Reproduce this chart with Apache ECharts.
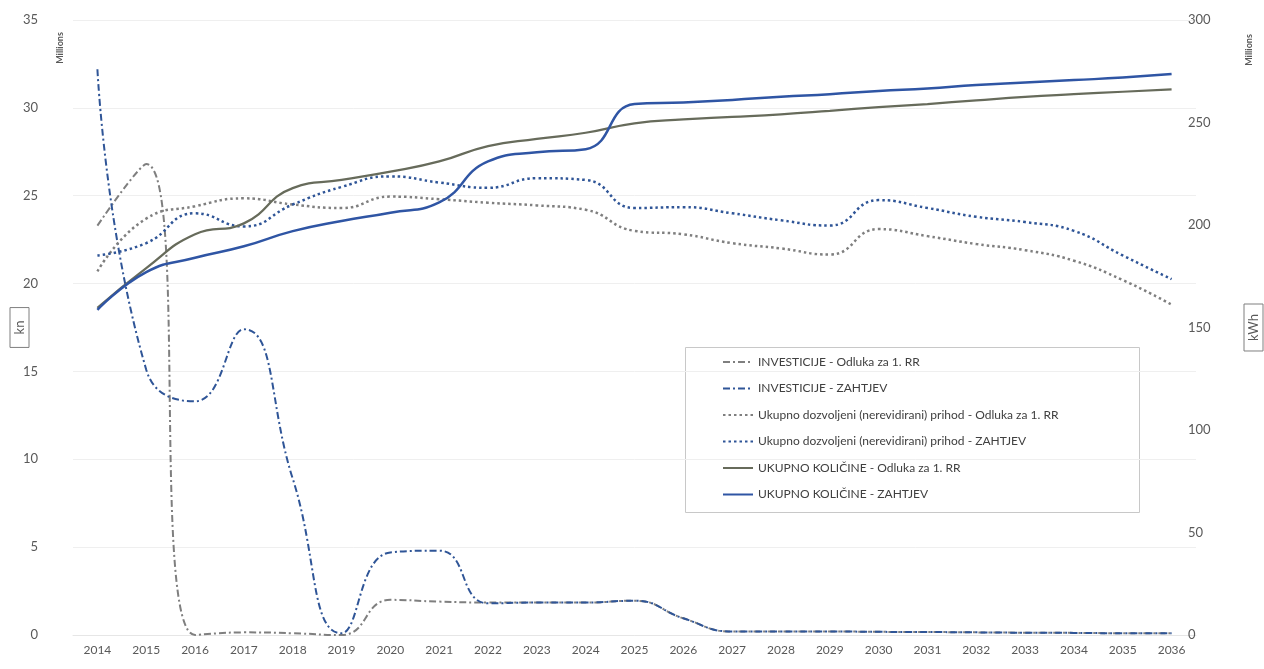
<!DOCTYPE html>
<html>
<head>
<meta charset="utf-8">
<script src="https://cdn.jsdelivr.net/npm/echarts@6/dist/echarts.min.js"></script>
<style>
html,body{margin:0;padding:0;background:#fff;}
#c{width:1264px;height:669px;}
</style>
</head>
<body>
<div id="c"></div>
<script>
const years = ['2014','2015','2016','2017','2018','2019','2020','2021','2022','2023','2024','2025','2026','2027','2028','2029','2030','2031','2032','2033','2034','2035','2036'];
const leftTicks = [0, 35, 5];
const rightTicks = [0, 300, 50];

const invOdluka = [23.3, 26.8, 0, 0.15, 0.1, 0.0, 2.0, 1.9, 1.85, 1.85, 1.85, 1.95, 0.95, 0.2, 0.2, 0.2, 0.18, 0.17, 0.15, 0.13, 0.12, 0.1, 0.1];
const invZahtjev = [32.2, 15.1, 13.3, 17.4, 8.9, 0.1, 4.7, 4.8, 1.8, 1.85, 1.85, 1.95, 0.95, 0.2, 0.2, 0.2, 0.18, 0.17, 0.15, 0.13, 0.12, 0.1, 0.1];
const prihodOdluka = [20.7, 23.7, 24.4, 24.85, 24.5, 24.3, 24.95, 24.8, 24.6, 24.45, 24.2, 23.0, 22.8, 22.3, 22.0, 21.65, 23.1, 22.7, 22.25, 21.9, 21.3, 20.2, 18.8];
const prihodZahtjev = [21.6, 22.3, 24.0, 23.25, 24.5, 25.5, 26.1, 25.75, 25.45, 26.0, 25.9, 24.3, 24.35, 24.0, 23.6, 23.3, 24.75, 24.3, 23.8, 23.5, 23.0, 21.6, 20.25];
const kolOdluka = [159.6, 179, 195.5, 200.8, 218, 222, 226, 231, 238.5, 242, 245, 249.6, 251.5, 252.7, 254, 255.7, 257.5, 259, 260.8, 262.5, 263.8, 265, 266.2];
const kolZahtjev = [158.6, 177, 184, 189.6, 197, 202, 206, 211, 231, 235.5, 237, 259, 259.8, 261, 262.6, 263.8, 265.4, 266.6, 268.3, 269.5, 270.7, 271.9, 273.6];

const names = [
  'INVESTICIJE - Odluka za 1. RR',
  'INVESTICIJE - ZAHTJEV',
  'Ukupno dozvoljeni (nerevidirani) prihod - Odluka za 1. RR',
  'Ukupno dozvoljeni (nerevidirani) prihod - ZAHTJEV',
  'UKUPNO KOLIČINE - Odluka za 1. RR',
  'UKUPNO KOLIČINE - ZAHTJEV'
];

const FONT = 'Lato, "Open Sans", sans-serif';
const chart = echarts.init(document.getElementById('c'));

function line(name, data, axis, color, width, type) {
  return {
    name: name, type: 'line', data: data, yAxisIndex: axis,
    smooth: 0.5, symbol: 'none',
    lineStyle: { color: color, width: width, type: type, cap: 'butt' },
    itemStyle: { color: color },
    emphasis: { disabled: true }
  };
}

chart.setOption({
  animation: false,
  backgroundColor: '#fff',
  grid: { left: 73, right: 68, top: 20, bottom: 34, containLabel: false, outerBoundsMode: 'none' },
  xAxis: {
    type: 'category', data: years, boundaryGap: true,
    axisLine: { show: true, lineStyle: { color: '#e6e6e6' } },
    axisTick: { show: false },
    axisLabel: { color: '#595959', fontSize: 12, fontFamily: FONT, margin: 9, interval: 0 }
  },
  yAxis: [
    {
      type: 'value', min: leftTicks[0], max: leftTicks[1], interval: leftTicks[2],
      name: 'kn', nameLocation: 'middle', nameRotate: 90, nameGap: 44, nameMoveOverlap: false,
      nameTextStyle: { color: '#595959', fontSize: 13, fontFamily: FONT, borderColor: '#7f7f7f', borderWidth: 1, padding: [3, 13, 3, 13] },
      axisLine: { show: false }, axisTick: { show: false },
      axisLabel: { color: '#595959', fontSize: 13, fontFamily: FONT, margin: 35 },
      splitLine: { lineStyle: { color: '#efefef', width: 1 } }
    },
    {
      type: 'value', min: rightTicks[0], max: rightTicks[1], interval: rightTicks[2],
      name: 'kWh', nameLocation: 'middle', nameRotate: 90, nameGap: 48, nameMoveOverlap: false,
      nameTextStyle: { color: '#595959', fontSize: 13, fontFamily: FONT, borderColor: '#7f7f7f', borderWidth: 1, padding: [3, 10, 3, 10] },
      axisLine: { show: false }, axisTick: { show: false },
      axisLabel: { color: '#595959', fontSize: 13, fontFamily: FONT, margin: -8 },
      splitLine: { show: false }
    }
  ],
  legend: {
    orient: 'vertical', left: 722, top: 356, padding: 0,
    itemWidth: 30, itemHeight: 14, itemGap: 14.5,
    itemStyle: { opacity: 0 },
    textStyle: { color: '#404040', fontSize: 12, fontFamily: FONT },
    data: names
  },
  graphic: [
    { type: 'rect', left: 683, top: 345, shape: { width: 454, height: 165 }, style: { fill: 'none', stroke: '#c8c8c8', lineWidth: 1 }, z: -1 },
    { type: 'text', x: 60, y: 48, rotation: Math.PI / 2, style: { text: 'Millions', fill: '#595959', font: 'bold 9px ' + FONT, textAlign: 'center', textVerticalAlign: 'middle' } },
    { type: 'text', x: 1249, y: 50, rotation: Math.PI / 2, style: { text: 'Millions', fill: '#595959', font: 'bold 9px ' + FONT, textAlign: 'center', textVerticalAlign: 'middle' } }
  ],
  series: [
    line(names[0], invOdluka, 0, '#7f7f7f', 2, [7, 3, 2, 3]),
    line(names[1], invZahtjev, 0, '#2f5597', 2, [7, 3, 2, 3]),
    line(names[2], prihodOdluka, 0, '#7f7f7f', 2.5, [2.5, 3]),
    line(names[3], prihodZahtjev, 0, '#2f5597', 2.5, [2.5, 3]),
    line(names[4], kolOdluka, 1, '#676b5b', 2.25, 'solid'),
    line(names[5], kolZahtjev, 1, '#2f55a4', 2.5, 'solid')
  ]
});
</script>
</body>
</html>
